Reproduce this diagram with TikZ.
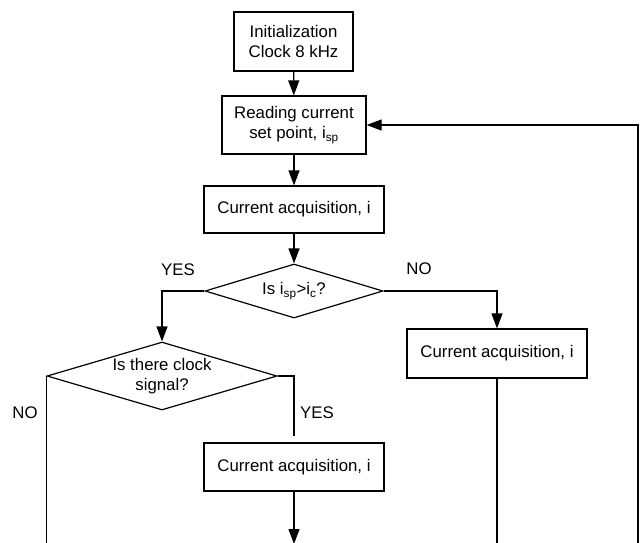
\documentclass[tikz,border=0pt]{standalone}
\usepackage{fontspec}
\setmainfont{Liberation Sans}
\usetikzlibrary{arrows.meta,shapes.geometric}
\begin{document}
\begin{tikzpicture}[x=1pt,y=-1pt,
 every node/.style={font=\fontsize{16.8}{20.5}\selectfont},
 box/.style={draw, line width=1.2pt, inner sep=0pt, align=center},
 dec/.style={draw, diamond, line width=1.2pt, inner sep=0pt, align=center},
 conn/.style={line width=1.2pt},
 arr/.style={conn, -{Triangle[length=15pt,width=11pt]}},
 lab/.style={inner sep=0pt}]
\clip (0,0) rectangle (642,542);
\useasboundingbox (0,0) rectangle (642,542);
\node[box, minimum width=119pt, minimum height=59pt] (init) at (293.5,41.5) {Initialization\\Clock 8 kHz};
\node[box, minimum width=144pt, minimum height=58pt] (read) at (294,125) {Reading current\\set point, i\textsubscript{sp}};
\node[box, minimum width=180pt, minimum height=47pt] (acq1) at (294,209.5) {Current acquisition, i};
\node[dec, shape aspect=3.3, minimum width=178pt, minimum height=54pt] (dia1) at (294,291) {Is i\textsubscript{sp}>i\textsubscript{c}?};
\node[box, minimum width=180pt, minimum height=49pt] (acqR) at (497,353.5) {Current acquisition, i};
\node[dec, shape aspect=3.4, minimum width=230pt, minimum height=68pt] (dia2) at (162,376) {Is there clock\\signal?};
\node[box, minimum width=180pt, minimum height=48pt] (acq3) at (294,467) {Current acquisition, i};
\node[lab] (yes1) at (178,270) {YES};
\node[lab] (no1) at (419,269) {NO};
\node[lab] (no2) at (25,413) {NO};
\node[lab] (yes2) at (317,413) {YES};
\coordinate (bl) at (47,548);
\coordinate (ab) at (294,544);
\coordinate (rb) at (638,548);
\draw[arr] (init) -- (read);
\draw[arr] (read) -- (acq1);
\draw[arr] (acq1) -- (dia1);
\draw[arr] (dia1.west) -| (dia2.north);
\draw[arr] (dia1.east) -| (acqR.north);
\draw[conn, shorten >=6pt] (dia2.east) -| (acq3.north);
\draw[conn] (dia2.west) -- (dia2.west |- bl);
\draw[conn] (acqR.south) -- (acqR.south |- bl);
\draw[arr] (acq3) -- (ab);
\draw[arr] (rb) |- (read.east);
\end{tikzpicture}
\end{document}
